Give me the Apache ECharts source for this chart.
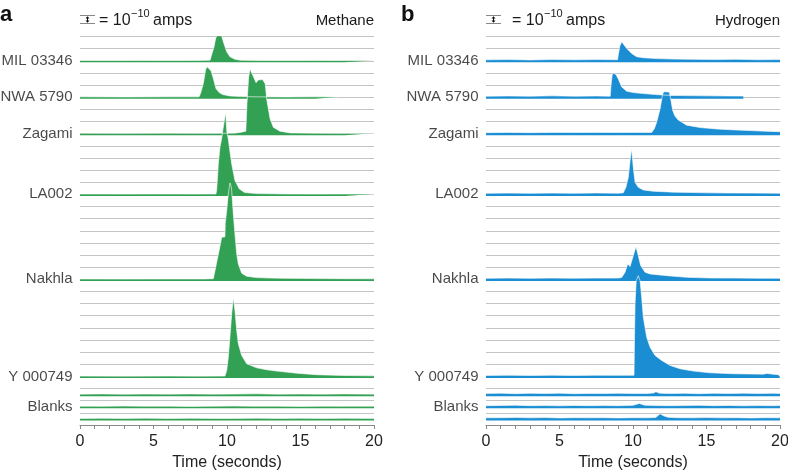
<!DOCTYPE html>
<html>
<head>
<meta charset="utf-8">
<script src="https://cdn.jsdelivr.net/npm/echarts@6/dist/echarts.min.js"></script>
<style>html,body{margin:0;padding:0;background:#fff;}#c{width:788px;height:472px;}</style>
</head>
<body>
<div id="c"></div>
<script>
// ---------- data ----------
const sampleNames = ['MIL 03346', 'NWA 5790', 'Zagami', 'LA002', 'Nakhla', 'Y 000749', 'Blanks'];
const labelLevels = [30, 27, 24, 19, 12, 4, 1.5];
// baselines (offsets, units of 1e-10 A) for traces: 6 samples + 3 blanks
const traceBaselines = [30, 27, 24, 19, 12, 4, 2.5, 1.5, 0.5];
const gridLevels = [0.5, 1, 1.5, 2, 2.5, 3, 4, 5, 6, 7, 8, 9, 10, 11, 12, 13, 14, 15, 16, 17, 18, 19, 20, 21, 22, 23, 24, 25, 26, 27, 28, 29, 30, 31, 32];
const xTicks = [0, 5, 10, 15, 20];

// Methane traces [time (s), signal above baseline]
const ch4Mil = [[0,0.03],[2,0.02],[4,0.03],[6,0.02],[8,0.03],[8.85,0.05],[8.97,0.55],[9.12,1.15],[9.22,1.8],[9.32,2.12],[9.62,2.12],[9.75,1.57],[9.98,0.74],[10.2,0.33],[10.54,0.12],[10.9,0.05],[12,0.03],[14,0.02],[16,0.03],[18,0.02],[20,0.03]];
const ch4Nwa = [[0,0.03],[3,0.02],[6,0.03],[8.1,0.03],[8.2,0.3],[8.39,1.13],[8.55,2.3],[8.66,2.5],[8.92,2.15],[9.07,1.54],[9.25,0.71],[9.45,0.4],[9.7,0.22],[10.2,0.1],[11,0.05],[12,0.03],[14,0.02],[16,0.03],[17.5,0.02]];
const ch4Zag = [[0,0.03],[3,0.02],[6,0.03],[9,0.02],[10.5,0.04],[10.9,0.1],[11.28,0.2],[11.36,2.5],[11.47,4.6],[11.56,5.32],[11.79,4.7],[11.98,4.2],[12.12,4.42],[12.42,4.45],[12.6,4.1],[12.7,2.85],[12.93,1.22],[13.15,0.52],[13.6,0.2],[14.3,0.06],[16,0.03],[18,0.02],[20,0.03]];
const ch4La = [[0,0.03],[3,0.02],[6,0.03],[8,0.02],[9.25,0.03],[9.3,0.4],[9.34,1.13],[9.41,2.5],[9.52,3.87],[9.64,4.6],[9.71,5.24],[9.91,6.75],[9.98,5.24],[10.09,4.56],[10.16,3.87],[10.32,2.5],[10.54,1.13],[10.84,0.44],[11.2,0.15],[12,0.06],[14,0.03],[16,0.02],[18,0.03],[20,0.02]];
const ch4Nak = [[0,0.03],[3,0.02],[6,0.03],[8.5,0.03],[9.07,0.05],[9.3,1.4],[9.5,2.6],[9.64,3.46],[9.86,3.5],[9.88,4.6],[9.98,5.66],[10.09,7.03],[10.2,7.94],[10.3,7.6],[10.43,5.38],[10.54,3.74],[10.66,2.09],[10.77,1.27],[11.0,0.5],[11.34,0.25],[12.0,0.14],[13,0.1],[14,0.08],[16,0.06],[18,0.05],[20,0.04]];
const ch4Y = [[0,0.03],[3,0.02],[6,0.03],[8,0.02],[9.86,0.03],[9.98,0.49],[10.09,1.59],[10.2,3.24],[10.32,5.16],[10.43,6.48],[10.54,5.44],[10.66,3.79],[10.77,2.69],[11.0,1.73],[11.34,1.04],[12.02,0.71],[12.7,0.55],[13.38,0.44],[14.74,0.27],[16.1,0.14],[17.9,0.08],[20,0.05]];
const ch4B1 = [[0,0.04],[1.5,0.06],[3,0.03],[4.5,0.05],[6,0.04],[7.5,0.06],[9,0.04],[10.5,0.05],[12,0.07],[13.5,0.04],[15,0.05],[16.5,0.04],[18,0.06],[20,0.04]];
const ch4B2 = [[0,0.05],[1.5,0.04],[3,0.06],[4.5,0.04],[6,0.05],[7.5,0.03],[9,0.05],[10.5,0.06],[12,0.04],[13.5,0.05],[15,0.03],[16.5,0.05],[18,0.04],[20,0.05]];
const ch4B3 = [[0,0.04],[1.5,0.05],[3,0.04],[4.5,0.06],[6,0.03],[7.5,0.05],[9,0.04],[10.5,0.04],[12,0.06],[13.5,0.04],[15,0.05],[16.5,0.04],[18,0.05],[20,0.04]];

// Hydrogen traces [time (s), signal above baseline]
const h2Mil = [[0,0.08],[1.5,0.1],[3,0.07],[4.5,0.1],[6,0.08],[7.5,0.1],[8.95,0.09],[9.0,0.5],[9.1,1.2],[9.23,1.57],[9.57,1.02],[9.91,0.6],[10.25,0.33],[10.7,0.25],[11.6,0.18],[12.8,0.14],[13.9,0.12],[15.5,0.1],[17,0.12],[18.5,0.09],[20,0.1]];
const h2Nwa = [[0,0.08],[1.5,0.1],[3,0.08],[4.5,0.11],[6,0.08],[7.5,0.1],[8.45,0.08],[8.5,0.9],[8.58,1.8],[8.66,2.0],[8.85,1.85],[9.0,1.5],[9.23,0.85],[9.57,0.5],[10.02,0.38],[10.7,0.3],[11.5,0.22],[12.5,0.15],[13.5,0.13],[15,0.11],[16.5,0.1],[17.5,0.09]];
const h2Zag = [[0,0.08],[1.5,0.1],[3,0.08],[4.5,0.1],[6,0.09],[7.5,0.1],[9,0.09],[10.5,0.1],[11.27,0.1],[11.45,0.4],[11.61,0.93],[11.84,2.03],[12.02,3.27],[12.11,3.45],[12.47,3.42],[12.56,2.88],[12.7,1.92],[12.85,1.45],[13.08,1.12],[13.65,0.7],[14.56,0.5],[15.7,0.38],[17,0.3],[17.96,0.25],[19,0.2],[20,0.16]];
const h2La = [[0,0.08],[1.5,0.1],[3,0.08],[4.5,0.1],[6,0.08],[7.5,0.11],[9,0.09],[9.34,0.12],[9.52,0.58],[9.68,1.4],[9.8,2.77],[9.91,3.73],[10.02,2.22],[10.14,0.99],[10.36,0.58],[10.7,0.36],[11.38,0.25],[12.74,0.18],[14,0.15],[15.2,0.12],[16.5,0.11],[18,0.1],[20,0.09]];
const h2Nak = [[0,0.08],[1.5,0.1],[3,0.08],[4.5,0.1],[6,0.09],[7.5,0.1],[9,0.1],[9.23,0.15],[9.46,0.58],[9.64,1.27],[9.8,1.05],[10.02,1.95],[10.2,2.69],[10.36,1.95],[10.52,1.13],[10.82,0.58],[11.16,0.44],[12.3,0.3],[13.7,0.16],[15.2,0.11],[17,0.1],[18.5,0.09],[20,0.08]];
const h2Y = [[0,0.08],[1.5,0.1],[3,0.08],[4.5,0.1],[6,0.08],[7.5,0.1],[9,0.09],[10.07,0.1],[10.1,3.0],[10.14,6.0],[10.22,7.9],[10.36,8.3],[10.48,7.9],[10.59,6.53],[10.7,4.88],[10.93,3.24],[11.16,2.41],[11.5,1.73],[11.95,1.32],[12.52,0.91],[13.2,0.63],[14.1,0.44],[15.24,0.3],[16.8,0.22],[18.86,0.19],[19.1,0.25],[19.4,0.2],[19.9,0.14],[20,0.13]];
const h2B1 = [[0,0.1],[1,0.12],[2,0.08],[3,0.11],[4,0.09],[5,0.12],[6,0.08],[7,0.1],[8,0.09],[9,0.11],[10,0.09],[11,0.1],[11.4,0.14],[11.56,0.24],[11.8,0.12],[12.5,0.09],[13.5,0.11],[14.5,0.08],[15.5,0.11],[16.5,0.09],[17.5,0.12],[18.5,0.09],[19.5,0.11],[20,0.1]];
const h2B2 = [[0,0.09],[1,0.11],[2,0.13],[3,0.09],[4,0.1],[5,0.08],[6,0.11],[7,0.09],[8,0.1],[9,0.09],[10,0.12],[10.43,0.27],[10.8,0.13],[11.5,0.1],[12.5,0.09],[13.5,0.1],[14.5,0.12],[15.5,0.09],[16.5,0.11],[17.5,0.08],[18.5,0.1],[19.5,0.09],[20,0.1]];
const h2B3 = [[0,0.09],[1,0.1],[2,0.12],[3,0.09],[4,0.11],[5,0.08],[6,0.1],[7,0.09],[8,0.1],[9,0.08],[10,0.1],[11,0.09],[11.55,0.12],[11.84,0.42],[12.1,0.25],[12.4,0.13],[13,0.1],[14,0.09],[15,0.11],[16,0.09],[17,0.1],[18,0.08],[19,0.1],[20,0.09]];

const methaneTraces = [ch4Mil, ch4Nwa, ch4Zag, ch4La, ch4Nak, ch4Y, ch4B1, ch4B2, ch4B3];
const hydrogenTraces = [h2Mil, h2Nwa, h2Zag, h2La, h2Nak, h2Y, h2B1, h2B2, h2B3];

// ---------- chart ----------
const FONT = 'Liberation Sans, Arial, Helvetica, sans-serif';
const GREEN = '#33a154';
const BLUE = '#1b8dd2';
const chart = echarts.init(document.getElementById('c'), null, {renderer: 'canvas'});

const grids = [
  {left: 80, width: 294, top: 36.5, height: 388.5, containLabel: false, outerBoundsMode: 'none'},
  {left: 486, width: 294, top: 36.5, height: 388.5, containLabel: false, outerBoundsMode: 'none'}
];

function xAxisFor(i) {
  return {
    gridIndex: i, type: 'value', min: 0, max: 20, interval: 1,
    name: 'Time (seconds)', nameLocation: 'middle', nameGap: 29,
    nameTextStyle: {fontFamily: FONT, fontSize: 16, color: '#222'},
    axisLine: {lineStyle: {color: '#8a8a8a', width: 1}},
    axisTick: {show: true, length: 4, lineStyle: {color: '#8a8a8a'}},
    axisLabel: {fontFamily: FONT, fontSize: 16, color: '#222', margin: 9,
      formatter: v => (xTicks.indexOf(v) >= 0 ? String(v) : '')},
    splitLine: {show: false}
  };
}
function yAxisFor(i) {
  return {gridIndex: i, type: 'value', min: 0, max: 32, show: false, splitLine: {show: false}};
}

const series = [];
[0, 1].forEach(g => {
  // gridlines
  series.push({
    type: 'line', xAxisIndex: g, yAxisIndex: g, data: [], z: 0, silent: true,
    markLine: {
      z: 0, silent: true, symbol: ['none', 'none'], label: {show: false}, animation: false,
      lineStyle: {color: '#c4c4c4', width: 1, type: 'solid'},
      data: gridLevels.map(v => ({yAxis: v}))
    }
  });
  const traces = g === 0 ? methaneTraces : hydrogenTraces;
  const color = g === 0 ? GREEN : BLUE;
  traces.forEach((tr, k) => {
    const base = traceBaselines[k];
    series.push({
      type: 'line', xAxisIndex: g, yAxisIndex: g, z: 3, silent: true,
      showSymbol: false, symbol: 'none',
      data: tr.map(p => [p[0], base + p[1]]),
      lineStyle: {color: '#ffffff', width: 0.6},
      areaStyle: {color: color, opacity: 1, origin: base - 0.13}
    });
  });
  // sample labels
  series.push({
    type: 'scatter', xAxisIndex: g, yAxisIndex: g, z: 4, silent: true,
    symbolSize: 1, itemStyle: {color: 'rgba(0,0,0,0)'},
    data: sampleNames.map((n, k) => ({value: [0, labelLevels[k]], name: n})),
    label: {show: true, position: 'left', distance: 7, formatter: p => p.name,
      fontFamily: FONT, fontSize: 15, color: '#1a1a1a'}
  });
});

function scaleKey(x0, tx) {
  return [
    {type: 'line', shape: {x1: x0, y1: 15.5, x2: x0 + 15, y2: 15.5}, style: {stroke: '#888', lineWidth: 1}},
    {type: 'line', shape: {x1: x0, y1: 23.5, x2: x0 + 15, y2: 23.5}, style: {stroke: '#888', lineWidth: 1}},
    {type: 'line', shape: {x1: x0 + 7.5, y1: 17.5, x2: x0 + 7.5, y2: 21.5}, style: {stroke: '#111', lineWidth: 1}},
    {type: 'polygon', shape: {points: [[x0 + 5.5, 18.5], [x0 + 9.5, 18.5], [x0 + 7.5, 16.3]]}, style: {fill: '#111'}},
    {type: 'polygon', shape: {points: [[x0 + 5.5, 20.5], [x0 + 9.5, 20.5], [x0 + 7.5, 22.7]]}, style: {fill: '#111'}},
    {type: 'text', x: tx, y: 21, style: {text: '= 10', font: '16px ' + FONT, fill: '#1a1a1a', verticalAlign: 'middle', align: 'left'}},
    {type: 'text', x: tx + 32, y: 14, style: {text: '\u221210', font: '11px ' + FONT, fill: '#1a1a1a', verticalAlign: 'middle', align: 'left'}},
    {type: 'text', x: tx + 54, y: 21, style: {text: 'amps', font: '16px ' + FONT, fill: '#1a1a1a', verticalAlign: 'middle', align: 'left'}}
  ];
}

const graphic = [
  {type: 'text', x: 0, y: 14.5, style: {text: 'a', font: 'bold 22px ' + FONT, fill: '#111', verticalAlign: 'middle'}},
  {type: 'text', x: 401, y: 14.5, style: {text: 'b', font: 'bold 22px ' + FONT, fill: '#111', verticalAlign: 'middle'}},
  {type: 'text', x: 374, y: 21, style: {text: 'Methane', font: '15px ' + FONT, fill: '#1a1a1a', align: 'right', verticalAlign: 'middle'}},
  {type: 'text', x: 780, y: 21, style: {text: 'Hydrogen', font: '15px ' + FONT, fill: '#1a1a1a', align: 'right', verticalAlign: 'middle'}}
].concat(scaleKey(80, 99)).concat(scaleKey(486, 512));

chart.setOption({
  animation: false,
  backgroundColor: '#ffffff',
  grid: grids,
  xAxis: [xAxisFor(0), xAxisFor(1)],
  yAxis: [yAxisFor(0), yAxisFor(1)],
  series: series,
  graphic: graphic
});
</script>
</body>
</html>
